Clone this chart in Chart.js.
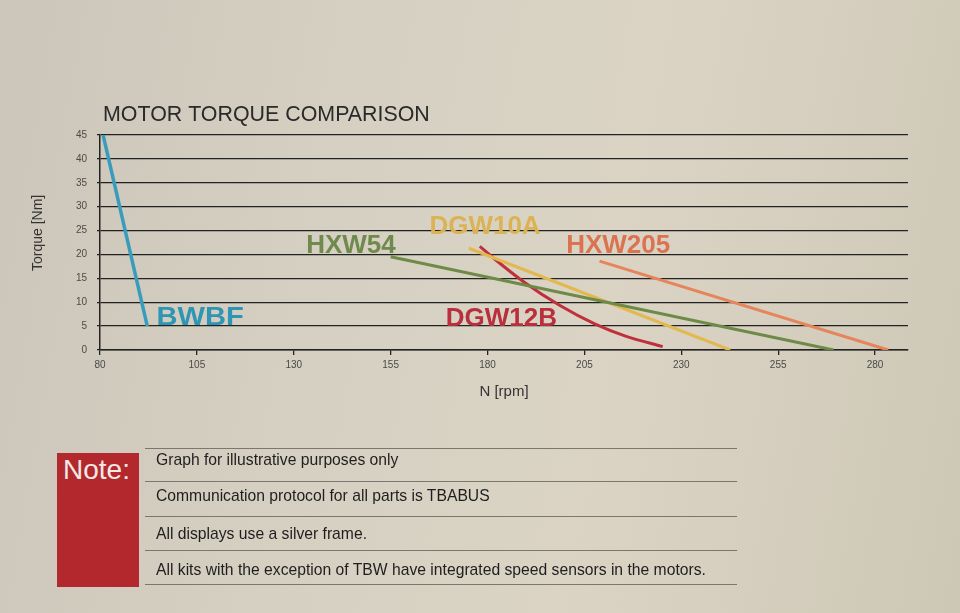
<!DOCTYPE html>
<html>
<head>
<meta charset="utf-8">
<script src="https://cdn.jsdelivr.net/npm/chart.js@4.4.1/dist/chart.umd.min.js"></script>
<style>
  html, body { margin: 0; padding: 0; }
  body {
    width: 960px; height: 613px; overflow: hidden; position: relative;
    font-family: "Liberation Sans", Arial, sans-serif;
    background: linear-gradient(100deg, #cbc6b9 0%, #d5d0c2 35%, #dbd4c5 62%, #d6cfbf 78%, #cdc7b6 100%);
  }
  #myChart { position: absolute; left: 0; top: 0; }
  .noteBox { position: absolute; left: 57px; top: 453px; width: 82px; height: 134px; background: #b3282d; }
  .noteBox span { position: absolute; left: 6px; top: 1px; color: #f4e8e6; font-size: 28px; }
  .rule { position: absolute; left: 145px; width: 592px; height: 0; border-top: 1px solid #7a776f; }
  .note { position: absolute; left: 156px; font-size: 15.7px; color: #1e1e1e; }
</style>
</head>
<body>
<canvas id="myChart" width="960" height="613"></canvas>

<div class="noteBox"><span>Note:</span></div>
<div class="rule" style="top:448px"></div>
<div class="rule" style="top:481px"></div>
<div class="rule" style="top:516px"></div>
<div class="rule" style="top:550px"></div>
<div class="rule" style="top:584px"></div>
<div class="note" style="top:451px">Graph for illustrative purposes only</div>
<div class="note" style="top:487px">Communication protocol for all parts is TBABUS</div>
<div class="note" style="top:525px">All displays use a silver frame.</div>
<div class="note" style="top:561px">All kits with the exception of TBW have integrated speed sensors in the motors.</div>

<script>
// tick labels
var xTicks = [80, 105, 130, 155, 180, 205, 230, 255, 280];
var yTicks = [0, 5, 10, 15, 20, 25, 30, 35, 40, 45];

// motor curves (rpm, Nm)
var motorNames = ['BWBF', 'HXW54', 'DGW10A', 'DGW12B', 'HXW205'];
var bwbfRpm = [80.8, 92.2];
var bwbfNm = [45, 5];
var hxw54Rpm = [155, 269.3];
var hxw54Nm = [19.5, 0];
var dgw10aRpm = [175.2, 242.6];
var dgw10aNm = [21.3, 0];
var dgw12bRpm = [178, 181.9, 189.3, 198.7, 207.8, 215.6, 225.2];
var dgw12bNm = [21.7, 19.0, 14.3, 9.3, 5.4, 2.9, 0.7];
var hxw205Rpm = [208.9, 283.4];
var hxw205Nm = [18.6, 0];

function pts(xs, ys) {
    return xs.map(function (x, i) { return { x: x, y: ys[i] }; });
}

var lineColors = ['#3a9cbd', '#6d8a47', '#e2b84f', '#c0303c', '#e6845a'];
var textColors = ['#2e95b5', '#6f8a4c', '#dcb354', '#b8303e', '#db7350'];
// where each name is written (in chart units: rpm, Nm)
var labelSpots = [[94.6, 5.2], [133.2, 20.2], [165, 24.2], [169.2, 5], [200.3, 20.2]];

var series = [
    pts(bwbfRpm, bwbfNm),
    pts(hxw54Rpm, hxw54Nm),
    pts(dgw10aRpm, dgw10aNm),
    pts(dgw12bRpm, dgw12bNm),
    pts(hxw205Rpm, hxw205Nm)
];

var nameLabels = {
    id: 'nameLabels',
    afterDatasetsDraw: function (chart) {
        var c = chart.ctx, xs = chart.scales.x, ys = chart.scales.y, a = chart.chartArea;
        c.save();
        c.font = 'bold 26px "Liberation Sans", Arial, sans-serif';
        c.textAlign = 'left';
        c.textBaseline = 'alphabetic';
        motorNames.forEach(function (n, i) {
            c.fillStyle = textColors[i];
            var w = i == 0 ? 1.12 : 1;   // BWBF is set a little wider
            c.save();
            c.translate(xs.getPixelForValue(labelSpots[i][0]), ys.getPixelForValue(labelSpots[i][1]));
            c.scale(w, 1);
            c.fillText(n, 0, 0);
            c.restore();
        });
        // heading
        c.font = '21.4px "Liberation Sans", Arial, sans-serif';
        c.fillStyle = '#2a2a2a';
        c.fillText('MOTOR TORQUE COMPARISON', a.left + 3, a.top - 14);
        // y axis title
        c.font = '14px "Liberation Sans", Arial, sans-serif';
        c.fillStyle = '#333';
        c.textAlign = 'center';
        c.textBaseline = 'middle';
        c.translate(38, ys.getPixelForValue(24.5));
        c.rotate(-Math.PI / 2);
        c.fillText('Torque [Nm]', 0, 0);
        c.restore();
    }
};

var ctx = document.getElementById('myChart').getContext('2d');
var chart = new Chart(ctx, {
    type: 'line',
    data: {
        datasets: series.map(function (d, i) {
            return {
                label: motorNames[i],
                data: d,
                borderColor: lineColors[i],
                borderWidth: i == 0 ? 3.5 : 3,
                pointRadius: 0,
                fill: false,
                cubicInterpolationMode: i == 3 ? 'monotone' : 'default',
                tension: 0
            };
        })
    },
    options: {
        responsive: false,
        animation: false,
        layout: { padding: { left: 25, right: 52, top: 135, bottom: 203 } },
        plugins: {
            legend: { display: false },
            tooltip: { enabled: false }
        },
        scales: {
            x: {
                type: 'linear',
                min: 80,
                max: 288.5,
                afterBuildTicks: function (s) {
                    s.ticks = xTicks.map(function (v) { return { value: v }; });
                },
                afterFit: function (s) { s.height = 60; },
                grid: { drawOnChartArea: false, tickLength: 5, color: '#222', lineWidth: 1.3 },
                border: { color: '#222', width: 1.5 },
                ticks: { font: { size: 10 }, color: '#4a4a4a', padding: 4, maxRotation: 0, autoSkip: false },
                title: { display: true, text: 'N [rpm]', font: { size: 15 }, color: '#333', padding: { top: 4, bottom: 9 } }
            },
            y: {
                min: 0,
                max: 45,
                afterBuildTicks: function (s) {
                    s.ticks = yTicks.map(function (v) { return { value: v }; });
                },
                afterFit: function (s) { s.width = 75; },
                grid: { color: '#222', lineWidth: 1.3, tickLength: 3 },
                border: { color: '#222', width: 1.5 },
                ticks: { font: { size: 10 }, color: '#4a4a4a', padding: 10 },
                title: { display: false }
            }
        }
    },
    plugins: [nameLabels]
});
</script>
</body>
</html>
